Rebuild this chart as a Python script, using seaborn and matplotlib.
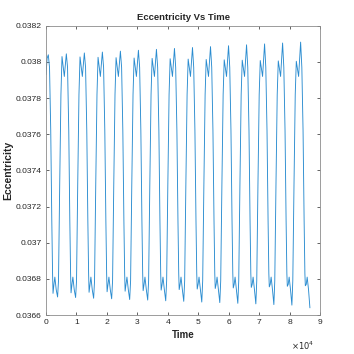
import numpy as np
import pandas as pd
import matplotlib
matplotlib.use("Agg")
import matplotlib.pyplot as plt
import seaborn as sns

# values (one row per oscillation cycle)
time = [
    0, 350,
    750, 1150, 1550, 1900, 2150, 2300, 2600, 2900, 3350, 3800, 4100, 4500, 4900, 5250, 6010,
    6670, 7070, 7470, 7820, 8070, 8220, 8520, 8820, 9270, 9720, 10020, 10420, 10820, 11170, 11930,
    12590, 12990, 13390, 13740, 13990, 14140, 14440, 14740, 15190, 15640, 15940, 16340, 16740, 17090, 17850,
    18510, 18910, 19310, 19660, 19910, 20060, 20360, 20660, 21110, 21560, 21860, 22260, 22660, 23010, 23770,
    24430, 24830, 25230, 25580, 25830, 25980, 26280, 26580, 27030, 27480, 27780, 28180, 28580, 28930, 29690,
    30350, 30750, 31150, 31500, 31750, 31900, 32200, 32500, 32950, 33400, 33700, 34100, 34500, 34850, 35610,
    36270, 36670, 37070, 37420, 37670, 37820, 38120, 38420, 38870, 39320, 39620, 40020, 40420, 40770, 41530,
    42190, 42590, 42990, 43340, 43590, 43740, 44040, 44340, 44790, 45240, 45540, 45940, 46340, 46690, 47450,
    48110, 48510, 48910, 49260, 49510, 49660, 49960, 50260, 50710, 51160, 51460, 51860, 52260, 52610, 53370,
    54030, 54430, 54830, 55180, 55430, 55580, 55880, 56180, 56630, 57080, 57380, 57780, 58180, 58530, 59290,
    59950, 60350, 60750, 61100, 61350, 61500, 61800, 62100, 62550, 63000, 63300, 63700, 64100, 64450, 65210,
    65870, 66270, 66670, 67020, 67270, 67420, 67720, 68020, 68470, 68920, 69220, 69620, 70020, 70370, 71130,
    71790, 72190, 72590, 72940, 73190, 73340, 73640, 73940, 74390, 74840, 75140, 75540, 75940, 76290, 77050,
    77710, 78110, 78510, 78860, 79110, 79260, 79560, 79860, 80310, 80760, 81060, 81460, 81860, 82210, 82970,
    83630, 84030, 84430, 84780, 85030, 85180, 85480, 85780, 86230, 86680,
]

eccentricity = [
    0.03793, 0.03802,
    0.038040, 0.03797, 0.03762, 0.03712, 0.03683, 0.036720, 0.03677, 0.03681, 0.03674, 0.036700, 0.03679, 0.03733, 0.03782, 0.038030, 0.03792,
    0.038045, 0.03797, 0.03762, 0.03712, 0.03683, 0.036723, 0.03677, 0.03681, 0.03674, 0.036697, 0.03679, 0.03733, 0.03782, 0.038028, 0.03792,
    0.038050, 0.03797, 0.03762, 0.03712, 0.03683, 0.036726, 0.03677, 0.03681, 0.03674, 0.036693, 0.03679, 0.03733, 0.03782, 0.038026, 0.03792,
    0.038055, 0.03797, 0.03762, 0.03712, 0.03683, 0.036729, 0.03677, 0.03681, 0.03674, 0.036690, 0.03679, 0.03733, 0.03782, 0.038024, 0.03792,
    0.038060, 0.03797, 0.03762, 0.03712, 0.03683, 0.036732, 0.03677, 0.03681, 0.03674, 0.036686, 0.03679, 0.03733, 0.03782, 0.038022, 0.03792,
    0.038065, 0.03797, 0.03762, 0.03712, 0.03683, 0.036735, 0.03677, 0.03681, 0.03674, 0.036683, 0.03679, 0.03733, 0.03782, 0.038020, 0.03792,
    0.038070, 0.03797, 0.03762, 0.03712, 0.03683, 0.036738, 0.03677, 0.03681, 0.03674, 0.036679, 0.03679, 0.03733, 0.03782, 0.038018, 0.03792,
    0.038075, 0.03797, 0.03762, 0.03712, 0.03683, 0.036741, 0.03677, 0.03681, 0.03674, 0.036676, 0.03679, 0.03733, 0.03782, 0.038016, 0.03792,
    0.038080, 0.03797, 0.03762, 0.03712, 0.03683, 0.036744, 0.03677, 0.03681, 0.03674, 0.036672, 0.03679, 0.03733, 0.03782, 0.038014, 0.03792,
    0.038085, 0.03797, 0.03762, 0.03712, 0.03683, 0.036747, 0.03677, 0.03681, 0.03674, 0.036669, 0.03679, 0.03733, 0.03782, 0.038012, 0.03792,
    0.038090, 0.03797, 0.03762, 0.03712, 0.03683, 0.036750, 0.03677, 0.03681, 0.03674, 0.036665, 0.03679, 0.03733, 0.03782, 0.038010, 0.03792,
    0.038095, 0.03797, 0.03762, 0.03712, 0.03683, 0.036753, 0.03677, 0.03681, 0.03674, 0.036662, 0.03679, 0.03733, 0.03782, 0.038008, 0.03792,
    0.038100, 0.03797, 0.03762, 0.03712, 0.03683, 0.036756, 0.03677, 0.03681, 0.03674, 0.036658, 0.03679, 0.03733, 0.03782, 0.038006, 0.03792,
    0.038105, 0.03797, 0.03762, 0.03712, 0.03683, 0.036759, 0.03677, 0.03681, 0.03674, 0.036655, 0.03679, 0.03733, 0.03782, 0.038004, 0.03792,
    0.038110, 0.03797, 0.03762, 0.03712, 0.03683, 0.036762, 0.03677, 0.03681, 0.03674, 0.036640,
]

x_ticks = [0, 10000, 20000, 30000, 40000, 50000, 60000, 70000, 80000, 90000]
x_tick_labels = ["0", "1", "2", "3", "4", "5", "6", "7", "8", "9"]
y_ticks = [0.0366, 0.0368, 0.0370, 0.0372, 0.0374, 0.0376, 0.0378, 0.0380, 0.0382]
y_tick_labels = ["0.0366", "0.0368", "0.037", "0.0372", "0.0374", "0.0376", "0.0378", "0.038", "0.0382"]

df = pd.DataFrame({"Time": time, "Eccentricity": eccentricity})

sns.set_style("ticks")
plt.rcParams["font.family"] = ["Liberation Sans", "DejaVu Sans"]

fig = plt.figure(figsize=(3.54, 3.54), dpi=100)
ax = fig.add_axes([0.130, 0.110, 0.774, 0.817])

sns.lineplot(data=df, x="Time", y="Eccentricity", ax=ax, color="#2a8cd0",
             linewidth=0.65, estimator=None, sort=False)

ax.set_xlim(0, 90000)
ax.set_ylim(0.0366, 0.0382)
ax.set_xticks(x_ticks)
ax.set_xticklabels(x_tick_labels)
ax.set_yticks(y_ticks)
ax.set_yticklabels(y_tick_labels)

ax.tick_params(direction="in", length=2.5, width=0.5, labelsize=6.1,
               colors="#262626", top=True, right=True, pad=3)
for s in ax.spines.values():
    s.set_visible(True)
    s.set_linewidth(0.6)
    s.set_color("#8c8c8c")

ax.set_title("Eccentricity Vs Time", fontsize=6.8, fontweight="bold", pad=4)
ax.set_xlabel("Time", fontsize=7, fontweight="bold", labelpad=3)
ax.set_ylabel("Eccentricity", fontsize=7.5, fontweight="bold", labelpad=2)
ax.text(0.98, -0.085, r"$\times10^4$", transform=ax.transAxes, fontsize=6,
        ha="right", va="top", color="#262626")

fig.savefig("out.png", dpi=100)
